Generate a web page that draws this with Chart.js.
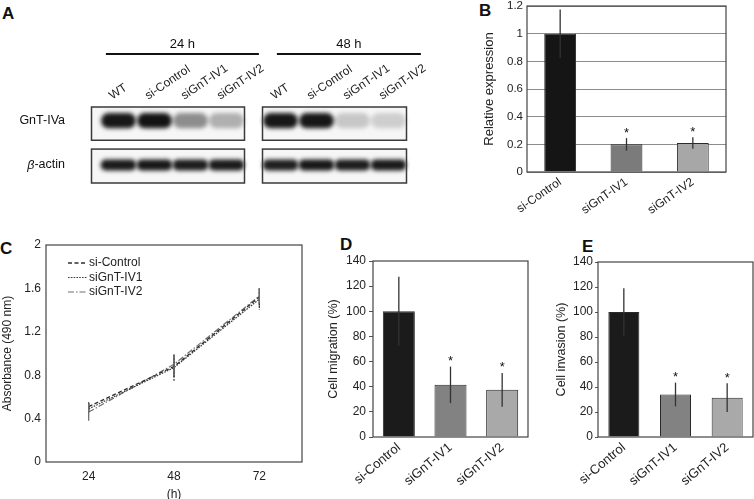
<!DOCTYPE html>
<html>
<head>
<meta charset="utf-8">
<script src="https://cdn.jsdelivr.net/npm/chart.js@4.4.0/dist/chart.umd.min.js"></script>
<style>
  body { margin: 0; width: 754px; height: 499px; overflow: hidden; position: relative; background: #fff; font-family: "Liberation Sans", Arial, sans-serif; }
  .panel { position: absolute; }
  .tag { position: absolute; font-weight: bold; font-size: 17px; line-height: 17px; color: #111; }
</style>
</head>
<body>
<div class="tag" style="left:2px;top:5px">A</div>
<div class="tag" style="left:479px;top:2px">B</div>
<div class="tag" style="left:0px;top:240px">C</div>
<div class="tag" style="left:340px;top:236px">D</div>
<div class="tag" style="left:582px;top:238px">E</div>

<div class="panel" style="left:0;top:0;width:450px;height:200px"><canvas id="blot"></canvas></div>
<div class="panel" style="left:450px;top:0;width:304px;height:230px"><canvas id="panelB"></canvas></div>
<div class="panel" style="left:0;top:232px;width:310px;height:270px"><canvas id="panelC"></canvas></div>
<div class="panel" style="left:310px;top:232px;width:222px;height:267px"><canvas id="panelD"></canvas></div>
<div class="panel" style="left:532px;top:232px;width:222px;height:267px"><canvas id="panelE"></canvas></div>

<script>
// A: western blot lanes and band densities (0 = no band, 1 = saturated)
const laneNames = ['WT', 'si-Control', 'siGnT-IV1', 'siGnT-IV2', 'WT', 'si-Control', 'siGnT-IV1', 'siGnT-IV2'];
const lanePos = [0, 1, 2, 3, 4.5, 5.5, 6.5, 7.5];
const gntBand = [0.96, 0.98, 0.45, 0.3, 0.96, 0.96, 0.2, 0.17];
const actinBand = [0.95, 0.96, 0.94, 0.95, 0.93, 0.96, 0.94, 0.95];
const gntRange = [1.62, 2.05];
const actinRange = [0.38, 0.68];
const timeGroups = ['24 h', '48 h'];
const groupSpan = [[-0.75, 3.5], [4, 8]];
const rowSpan = [[1.26, 2.24], [0, 1]];

// B, D, E: groups
const groups = ['si-Control', 'siGnT-IV1', 'siGnT-IV2'];
const significant = [false, true, true];

const relExpr = [1, 0.2, 0.21];
const relExprErr = [0.175, 0.045, 0.042];
const relTicks = [0, 0.2, 0.4, 0.6, 0.8, 1, 1.2];

const migration = [100, 41.5, 37.5];
const migrationErr = [27.5, 14.5, 13.5];
const invasion = [100, 34, 31.5];
const invasionErr = [19, 9.5, 11.5];
const pctTicks = [0, 20, 40, 60, 80, 100, 120, 140];

// C: proliferation
const hours = [24, 48, 72];
const absCtrl = [0.51, 0.88, 1.52];
const absCtrlErr = [0.04, 0.1, 0.08];
const absIV1 = [0.49, 0.87, 1.5];
const absIV1Err = [0.05, 0.12, 0.1];
const absIV2 = [0.46, 0.9, 1.53];
const absIV2Err = [0.08, 0.09, 0.07];
const absTicks = [0, 0.4, 0.8, 1.2, 1.6, 2];

Chart.defaults.font.family = '"Liberation Sans", Arial, Helvetica, sans-serif';
Chart.defaults.color = '#222';
Chart.defaults.animation = false;
Chart.defaults.plugins.tooltip.enabled = false;
Chart.defaults.plugins.legend.display = false;

const fixW = w => s => { s.width = w; s.paddingTop = 0; s.paddingBottom = 0; };
const fixH = h => s => { s.height = h; s.paddingLeft = 0; s.paddingRight = 0; };
const tickLabel = v => String(+v.toFixed(1));

// box round the plot area
const frame = {
    id: 'frame',
    afterDraw(chart, args, opts) {
        const { ctx, chartArea: a } = chart;
        ctx.save();
        ctx.strokeStyle = opts.color || '#444';
        ctx.lineWidth = 1.2;
        ctx.strokeRect(a.left, a.top, a.right - a.left, a.bottom - a.top);
        ctx.restore();
    }
};

// error bars + significance stars
const errorBars = {
    id: 'errorBars',
    afterDatasetsDraw(chart) {
        const { ctx } = chart;
        const ys = chart.scales.y;
        chart.data.datasets.forEach((ds, di) => {
            if (!ds.errors) return;
            const meta = chart.getDatasetMeta(di);
            ctx.save();
            ctx.strokeStyle = ds.errorColor || '#333';
            ctx.lineWidth = 1.3;
            ctx.setLineDash(ds.errorDash || []);
            meta.data.forEach((el, i) => {
                const raw = ds.data[i];
                const v = typeof raw === 'object' ? raw.y : raw;
                const e = ds.errors[i];
                const top = ys.getPixelForValue(v + e);
                ctx.beginPath();
                ctx.moveTo(el.x, top);
                ctx.lineTo(el.x, ys.getPixelForValue(v - e));
                ctx.stroke();
                if (ds.stars && ds.stars[i]) {
                    ctx.fillStyle = '#111';
                    ctx.font = '13px "Liberation Sans", Arial';
                    ctx.textAlign = 'center';
                    ctx.textBaseline = 'alphabetic';
                    ctx.fillText('*', el.x, top - 1.5);
                }
            });
            ctx.restore();
        });
    }
};

// legend with dashed line samples, top left inside the plot
const lineLegend = {
    id: 'lineLegend',
    afterDraw(chart, args, o) {
        const { ctx, chartArea: a } = chart;
        ctx.save();
        ctx.font = '12px "Liberation Sans", Arial';
        ctx.textBaseline = 'middle';
        ctx.textAlign = 'left';
        chart.data.datasets.forEach((ds, i) => {
            const x = a.left + o.dx;
            const y = a.top + o.dy + i * o.gap;
            ctx.strokeStyle = ds.borderColor;
            ctx.lineWidth = ds.borderWidth;
            ctx.setLineDash(ds.borderDash || []);
            ctx.beginPath();
            ctx.moveTo(x, y);
            ctx.lineTo(x + o.len, y);
            ctx.stroke();
            ctx.fillStyle = '#222';
            ctx.fillText(ds.label, x + o.len + 2, y);
        });
        ctx.restore();
    }
};

// blot boxes, headings and row names
const blot = {
    id: 'blot',
    beforeDatasetsDraw(chart) {
        const { ctx, scales: { x, y } } = chart;
        ctx.save();
        ctx.fillStyle = '#f6f6f6';
        groupSpan.forEach(([a, b]) => rowSpan.forEach(([lo, hi]) => {
            const x1 = x.getPixelForValue(a), x2 = x.getPixelForValue(b);
            const y1 = y.getPixelForValue(hi), y2 = y.getPixelForValue(lo);
            ctx.fillRect(x1, y1, x2 - x1, y2 - y1);
        }));
        ctx.filter = 'blur(2px)';
    },
    afterDatasetsDraw(chart, args, opts) {
        const { ctx, scales: { x, y } } = chart;
        ctx.restore();
        ctx.save();
        ctx.strokeStyle = '#3a3a3a';
        ctx.lineWidth = 1.5;
        groupSpan.forEach(([a, b]) => rowSpan.forEach(([lo, hi]) => {
            const x1 = x.getPixelForValue(a), x2 = x.getPixelForValue(b);
            const y1 = y.getPixelForValue(hi), y2 = y.getPixelForValue(lo);
            ctx.strokeRect(x1, y1, x2 - x1, y2 - y1);
        }));

        // time headings
        ctx.fillStyle = '#111';
        ctx.strokeStyle = '#111';
        ctx.lineWidth = 2.2;
        ctx.font = '13px "Liberation Sans", Arial';
        ctx.textAlign = 'center';
        ctx.textBaseline = 'middle';
        timeGroups.forEach((t, g) => {
            const x1 = x.getPixelForValue(groupSpan[g][0] + 0.4);
            const x2 = x.getPixelForValue(groupSpan[g][1] + 0.4);
            ctx.beginPath();
            ctx.moveTo(x1, opts.lineY);
            ctx.lineTo(x2, opts.lineY);
            ctx.stroke();
            ctx.fillText(t, (x1 + x2) / 2, opts.textY);
        });

        // row names
        const right = chart.chartArea.left - 4;
        ctx.textAlign = 'left';
        ctx.font = '12.5px "Liberation Sans", Arial';
        const gy = y.getPixelForValue((gntRange[0] + gntRange[1]) / 2);
        ctx.fillText('GnT-IVa', right - ctx.measureText('GnT-IVa').width, gy);
        const ay = y.getPixelForValue((actinRange[0] + actinRange[1]) / 2);
        const w1 = ctx.measureText('-actin').width;
        ctx.fillText('-actin', right - w1, ay);
        ctx.font = 'italic 12.5px "Liberation Sans", Arial';
        const w0 = ctx.measureText('\u03b2').width;
        ctx.fillText('\u03b2', right - w1 - w0, ay);
        ctx.restore();
    }
};

const bandColor = d => `rgba(14,14,14,${d})`;

new Chart(document.getElementById('blot'), {
    type: 'bar',
    data: {
        datasets: [{
            label: 'GnT-IVa',
            data: lanePos.map(x => ({ x: x, y: gntRange })),
            backgroundColor: gntBand.map(bandColor),
            barThickness: 34,
            borderRadius: 8,
            borderSkipped: false,
            grouped: false
        }, {
            label: 'beta-actin',
            data: lanePos.map(x => ({ x: x, y: actinRange })),
            backgroundColor: actinBand.map(bandColor),
            barThickness: 35,
            borderRadius: 6,
            borderSkipped: false,
            grouped: false
        }]
    },
    options: {
        responsive: true,
        maintainAspectRatio: false,
        layout: { padding: { left: 69, right: 21, top: 0, bottom: 17 } },
        plugins: { blot: { lineY: 54, textY: 44 } },
        scales: {
            x: {
                type: 'linear',
                position: 'top',
                min: -0.75,
                max: 8,
                afterBuildTicks: s => { s.ticks = lanePos.map(v => ({ value: v })); },
                ticks: {
                    autoSkip: false,
                    minRotation: 34,
                    maxRotation: 34,
                    padding: 4,
                    font: { size: 12 },
                    callback: (v, i) => laneNames[i]
                },
                grid: { display: false, drawTicks: false },
                border: { display: false },
                afterFit: fixH(107)
            },
            y: { display: false, min: 0, max: 2.24 }
        }
    },
    plugins: [blot]
});

function barPanel(id, p) {
    return new Chart(document.getElementById(id), {
        type: 'bar',
        data: {
            labels: groups,
            datasets: [{
                data: p.values,
                errors: p.errors,
                stars: significant,
                backgroundColor: p.fills,
                borderColor: '#2a2a2a',
                borderWidth: 1,
                barPercentage: p.barPct,
                categoryPercentage: 1
            }]
        },
        options: {
            responsive: true,
            maintainAspectRatio: false,
            layout: { padding: { left: 0, top: p.top, right: p.right, bottom: 0 } },
            plugins: { frame: { color: '#444' } },
            scales: {
                x: {
                    grid: { display: false, drawTicks: false },
                    border: { display: false },
                    ticks: { autoSkip: false, minRotation: p.rot, maxRotation: p.rot, padding: 3, font: { size: p.xFont }, color: '#222' },
                    afterFit: fixH(p.xHeight)
                },
                y: {
                    min: 0,
                    max: p.max,
                    afterBuildTicks: s => { s.ticks = p.ticks.map(v => ({ value: v })); },
                    grid: p.grid
                        ? { color: '#8c8c8c', drawTicks: false }
                        : { drawOnChartArea: false, drawTicks: p.tickLen > 0, tickLength: p.tickLen, color: '#555' },
                    border: { display: false },
                    ticks: { padding: p.tickPad, font: { size: p.tickFont }, callback: tickLabel, color: '#222' },
                    title: { display: true, text: p.title, color: '#222', font: { size: p.titleFont }, padding: { top: p.titlePad, bottom: 0 } },
                    afterFit: fixW(p.yWidth)
                }
            }
        },
        plugins: [frame, errorBars]
    });
}

barPanel('panelB', {
    values: relExpr, errors: relExprErr, max: 1.2, ticks: relTicks,
    fills: ['#151515', '#7b7b7b', '#a7a7a7'], barPct: 0.48,
    rot: 35, xFont: 12, xHeight: 58, top: 6, right: 28,
    yWidth: 77, tickPad: 4, tickFont: 11.5, tickLen: 0,
    title: 'Relative expression', titleFont: 13, titlePad: 32, grid: true
});

barPanel('panelD', {
    values: migration, errors: migrationErr, max: 140, ticks: pctTicks,
    fills: ['#1b1b1b', '#828282', '#a9a9a9'], barPct: 0.62,
    rot: 40, xFont: 13, xHeight: 62, top: 29, right: 4,
    yWidth: 63, tickPad: 3, tickFont: 12, tickLen: 4,
    title: 'Cell migration (%)', titleFont: 12.5, titlePad: 16, grid: false
});

barPanel('panelE', {
    values: invasion, errors: invasionErr, max: 140, ticks: pctTicks,
    fills: ['#1b1b1b', '#828282', '#a9a9a9'], barPct: 0.6,
    rot: 40, xFont: 13, xHeight: 62, top: 30, right: 1,
    yWidth: 66, tickPad: 2, tickFont: 12, tickLen: 3,
    title: 'Cell invasion (%)', titleFont: 12.5, titlePad: 22, grid: false
});

const series = vals => hours.map((h, i) => ({ x: h, y: vals[i] }));

new Chart(document.getElementById('panelC'), {
    type: 'line',
    data: {
        datasets: [{
            label: 'si-Control',
            data: series(absCtrl),
            errors: absCtrlErr,
            borderColor: '#2e2e2e',
            borderDash: [4, 2.5],
            errorColor: '#2e2e2e',
            borderWidth: 1.3
        }, {
            label: 'siGnT-IV1',
            data: series(absIV1),
            errors: absIV1Err,
            borderColor: '#3a3a3a',
            borderDash: [1.6, 1.2],
            errorColor: '#3a3a3a',
            errorDash: [2, 1.5],
            borderWidth: 1.2
        }, {
            label: 'siGnT-IV2',
            data: series(absIV2),
            errors: absIV2Err,
            borderColor: '#6e6e6e',
            borderDash: [6, 2, 1.5, 2],
            errorColor: '#6e6e6e',
            borderWidth: 1.2
        }]
    },
    options: {
        responsive: true,
        maintainAspectRatio: false,
        layout: { padding: { left: 0, top: 13, right: 8, bottom: 0 } },
        elements: { point: { radius: 0 }, line: { tension: 0 } },
        plugins: {
            frame: { color: '#444' },
            lineLegend: { dx: 22, dy: 18, gap: 14.5, len: 19 }
        },
        scales: {
            x: {
                type: 'linear',
                min: 12,
                max: 84,
                afterBuildTicks: s => { s.ticks = hours.map(v => ({ value: v })); },
                grid: { display: false, drawTicks: false },
                border: { display: false },
                ticks: { padding: 7, font: { size: 12 }, color: '#222' },
                title: { display: true, text: '(h)', color: '#222', font: { size: 12 }, padding: { top: 0, bottom: 0 } },
                afterFit: fixH(40)
            },
            y: {
                min: 0,
                max: 2,
                afterBuildTicks: s => { s.ticks = absTicks.map(v => ({ value: v })); },
                grid: { display: false, drawTicks: false },
                border: { display: false },
                ticks: { padding: 5, font: { size: 12 }, callback: tickLabel, color: '#222' },
                title: { display: true, text: 'Absorbance (490 nm)', color: '#222', font: { size: 12 }, padding: { top: 0, bottom: 0 } },
                afterFit: fixW(46)
            }
        }
    },
    plugins: [frame, errorBars, lineLegend]
});
</script>
</body>
</html>
